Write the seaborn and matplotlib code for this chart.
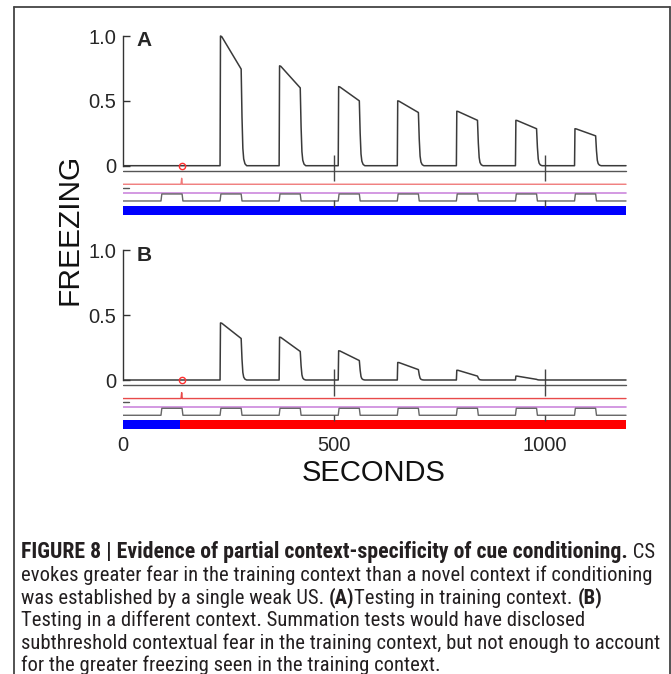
import numpy as np
import pandas as pd
import matplotlib
matplotlib.use("Agg")
import matplotlib.pyplot as plt
from matplotlib.lines import Line2D
from matplotlib import font_manager
from matplotlib.font_manager import FontProperties
import seaborn as sns

sns.set_style("white")
plt.rcParams['font.family'] = ['Liberation Sans', 'DejaVu Sans']
MAIN_FAMILY = ['Liberation Sans', 'DejaVu Sans']

# ---------------- data ----------------
cs_onsets = [90, 230, 370, 510, 650, 790, 930, 1070]      # seconds
cs_duration = 50
us_time = 139
context_switch_B = 134
session_end = 1192

# freezing at CS onset (peak) and at CS offset
peak_A = [0.0, 1.00, 0.77, 0.61, 0.50, 0.42, 0.35, 0.285]
end_A = [0.0, 0.745, 0.60, 0.50, 0.41, 0.35, 0.285, 0.23]
peak_B = [0.0, 0.44, 0.33, 0.225, 0.135, 0.075, 0.03, 0.0]
end_B = [0.0, 0.32, 0.22, 0.15, 0.08, 0.03, 0.005, 0.0]

# decay of freezing after CS offset (seconds after offset, fraction of offset value)
decay_dt = [2, 4, 6, 9, 13]
decay_frac = [0.5, 0.18, 0.07, 0.02, 0.0]

x_ticks = [0, 500, 1000]
x_tick_labels = ["0", "500", "1000"]
y_ticks = [0, 0.5, 1.0]
y_tick_labels = ["0", "0.5", "1.0"]

caption_lines = [
    [("FIGURE 8 | Evidence of partial context-specificity of cue conditioning.", "bold"), (" CS", "normal")],
    [("evokes greater fear in the training context than a novel context if conditioning", "normal")],
    [("was established by a single weak US. ", "normal"), ("(A)", "bold"),
     ("Testing in training context. ", "normal"), ("(B)", "bold")],
    [("Testing in a different context. Summation tests would have disclosed", "normal")],
    [("subthreshold contextual fear in the training context, but not enough to account", "normal")],
    [("for the greater freezing seen in the training context.", "normal")],
]

# ---------------- helpers ----------------
def freezing_df(peaks, ends):
    t, v = [0.0], [0.0]
    for on, p, e in zip(cs_onsets, peaks, ends):
        if p <= 0:
            continue
        t += [on, on + 1.0, on + 4.0, on + cs_duration]
        v += [0.0, p, p * 0.995, e]
        for dt, f in zip(decay_dt, decay_frac):
            t.append(on + cs_duration + dt)
            v.append(e * f)
    t.append(session_end)
    v.append(0.0)
    return pd.DataFrame({"t": t, "freezing": v})


def cs_df(low, high):
    t, v = [0.0], [low]
    for on in cs_onsets:
        t += [on, on + 2, on + cs_duration, on + cs_duration + 2]
        v += [low, high, high, low]
    t.append(session_end)
    v.append(low)
    return pd.DataFrame({"t": t, "cs": v})


W, H = 671, 674
fig = plt.figure(figsize=(W / 100, H / 100), dpi=100)

PX_PER_S = 0.422
UNIT_PX = 129.7
X0 = 123
YLIM = (-0.38, 1.03)


def make_axes(baseline_px):
    top = baseline_px - YLIM[1] * UNIT_PX
    bottom = baseline_px - YLIM[0] * UNIT_PX
    width = 1200 * PX_PER_S
    return fig.add_axes([X0 / W, 1 - bottom / H, width / W, (bottom - top) / H])


def draw_panel(ax, peaks, ends, label, panelB):
    df = freezing_df(peaks, ends)
    gray = "#555555"
    ax.plot([0, session_end], [-0.041, -0.041], color=gray, lw=1.0)
    red_c = "#e84a4a" if panelB else "#f07a7a"
    rt = [0, us_time - 1.5, us_time, us_time + 1.5, session_end]
    rv = [-0.143, -0.143, -0.097, -0.143, -0.143]
    ax.plot(rt, rv, color=red_c, lw=1.0)
    ax.plot([0, 14], [-0.17, -0.17], color=gray, lw=1.0)
    ax.plot([0, session_end], [-0.21, -0.21], color="#cc88dd", lw=1.2)
    cdf = cs_df(-0.272, -0.218)
    ax.plot(cdf["t"], cdf["cs"], color="#666666", lw=1.0)
    if panelB:
        ax.fill_between([0, context_switch_B], -0.38, -0.311, color="#0000ff", lw=0)
        ax.fill_between([context_switch_B, session_end], -0.38, -0.311, color="#ff0000", lw=0)
    else:
        ax.fill_between([0, session_end], -0.38, -0.311, color="#0000ff", lw=0)
    ax.vlines(x_ticks[1:], -0.12, 0.0825, color="#444444", lw=1.0)
    ax.vlines(x_ticks[1:], -0.318, -0.266, color="#444444", lw=1.0)
    sns.lineplot(data=df, x="t", y="freezing", ax=ax, color="#3a3a3a", lw=1.1,
                 sort=False, estimator=None)
    ax.plot([us_time], [0.0], marker="o", ms=4.5, mfc="none", mec="#ff3030", mew=1.0)
    ax.set_xlim(0, 1200)
    ax.set_ylim(*YLIM)
    for s in ["top", "right", "bottom"]:
        ax.spines[s].set_visible(False)
    ax.spines["left"].set_bounds(0, 1)
    ax.spines["left"].set_color("#333333")
    ax.spines["left"].set_linewidth(1.0)
    ax.set_yticks(y_ticks)
    ax.set_yticklabels(y_tick_labels, family=MAIN_FAMILY)
    ax.tick_params(axis="y", direction="in", length=5, width=1, pad=5,
                   labelsize=14.5, color="#333333", left=True)
    ax.set_xticks(x_ticks)
    if panelB:
        ax.set_xticklabels(x_tick_labels, family=MAIN_FAMILY)
        ax.tick_params(axis="x", length=0, pad=5, labelsize=14.5)
    else:
        ax.set_xticklabels([])
        ax.tick_params(axis="x", length=0)
    ax.set_xlabel("")
    ax.set_ylabel("")
    ax.text(32, 0.92, label, fontweight="bold", fontsize=15, va="baseline", ha="left",
            family=MAIN_FAMILY)


axA = make_axes(165.7)
draw_panel(axA, peak_A, end_A, "A", False)
axB = make_axes(380.0)
draw_panel(axB, peak_B, end_B, "B", True)

fig.text(69 / W, 1 - 229 / H, "FREEZING", rotation=90, ha="center", va="center",
         fontsize=21.5, color="#111111", family=MAIN_FAMILY)
fig.text(374 / W, 1 - 473 / H, "SECONDS", ha="center", va="center",
         fontsize=21, color="#111111", family=MAIN_FAMILY)

# frame
fc = "#444444"
fig.add_artist(Line2D([13.5 / W, 13.5 / W], [0, 1 - 6.7 / H], color=fc, lw=1.3))
fig.add_artist(Line2D([669.5 / W, 669.5 / W], [0, 1 - 6.7 / H], color=fc, lw=1.3))
fig.add_artist(Line2D([13.5 / W, 669.5 / W], [1 - 6.7 / H, 1 - 6.7 / H], color=fc, lw=1.3))

# caption font: prefer a condensed sans face if one is installed
def find_face(bold):
    prefs = ["Liberation Sans Narrow", "Roboto Condensed", "Open Sans Condensed",
             "DejaVu Sans Condensed", "DejaVu Sans"]
    for pref in prefs:
        for f in font_manager.fontManager.ttflist:
            is_bold = f.weight in ("bold", 700, 600, "semibold", "demibold") or \
                (isinstance(f.weight, int) and f.weight >= 600)
            if f.style != "normal" or is_bold != bold:
                continue
            cond = ("Narrow" in f.name or "Condensed" in f.name or
                    "Condensed" in f.fname or "Narrow" in f.fname or
                    f.stretch in ("condensed", "semi-condensed"))
            if f.name.startswith(pref.split(" Condensed")[0].split(" Narrow")[0]) and cond:
                return f.fname
    return None

reg_file = find_face(False)
bold_file = find_face(True)

def cap_fp(weight, size):
    fname = bold_file if weight == "bold" else reg_file
    if fname is not None:
        return FontProperties(fname=fname, size=size)
    return FontProperties(family="Liberation Sans", weight=weight, size=size)

renderer = fig.canvas.get_renderer()
probe = fig.text(0, 0, caption_lines[1][0][0], fontproperties=cap_fp("normal", 10))
wpx = probe.get_window_extent(renderer).width
probe.remove()
cap_size = 10 * 627 / wpx
cap_color = "#231f20"
first_center, spacing = 551, 22.6
for i, segs in enumerate(caption_lines):
    base_px = first_center + i * spacing + 0.36 * cap_size * 100 / 72
    x = 21.0
    for txt, wt in segs:
        size = cap_size * (1.05 if (wt == "bold" and i == 0) else 1.0)
        t = fig.text(x / W, 1 - base_px / H, txt, fontproperties=cap_fp(wt, size),
                     color=cap_color, va="baseline", ha="left")
        x += t.get_window_extent(renderer).width

fig.savefig("out.png", dpi=100)
